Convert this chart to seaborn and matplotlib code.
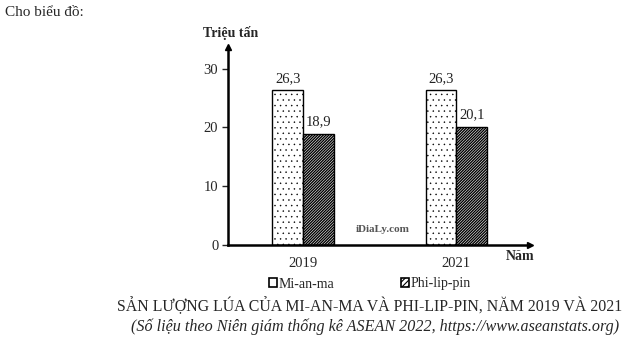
import matplotlib
matplotlib.use("Agg")
import matplotlib.pyplot as plt
from matplotlib.patches import Patch
import seaborn as sns
import pandas as pd

years = ["2019", "2021"]
countries = ["Mi-an-ma", "Phi-lip-pin"]
myanmar = [26.3, 26.3]
philippines = [18.9, 20.1]
yticks = [0, 10, 20, 30]

df = pd.DataFrame({
    "Năm": years * 2,
    "Quốc gia": [countries[0]] * 2 + [countries[1]] * 2,
    "Sản lượng": myanmar + philippines,
})

sns.set_style("white")
plt.rcParams["font.family"] = ["Liberation Serif", "DejaVu Serif"]
plt.rcParams["hatch.linewidth"] = 0.8

W, H = 626, 343
fig = plt.figure(figsize=(W / 100, H / 100), dpi=100)
left, right, bottom, top = 228, 530, 245, 47
ax = fig.add_axes([left / W, 1 - bottom / H, (right - left) / W, (bottom - top) / H])

sns.barplot(data=df, x="Năm", y="Sản lượng", hue="Quốc gia", hue_order=countries,
            order=years, palette=["white", "white"], edgecolor="black", linewidth=1.0,
            width=0.4, gap=0, ax=ax, legend=False)

hatches = ["...", "////////////"]
hlw = [0.3, 1.0]
for cont, h, lw in zip(ax.containers, hatches, hlw):
    for p in cont:
        p.set_hatch(h)
        p.set_hatch_linewidth(lw)
    ax.bar_label(cont, labels=[f"{v:.1f}".replace(".", ",") for v in cont.datavalues],
                 padding=4, fontsize=10.5, color="#222222")

ax.set_ylim(0, 33.7)
ax.set_xlim(-0.49, 1.48)
ax.set_yticks(yticks)
ax.set_yticklabels([str(t) for t in yticks])
ax.tick_params(axis="y", which="both", left=True, length=4, width=1, pad=3, labelsize=10.5)
ax.tick_params(axis="x", bottom=False, pad=5, labelsize=10.5)
ax.set_xlabel("")
ax.set_ylabel("")
for s in ["top", "right"]:
    ax.spines[s].set_visible(False)
for s in ["left", "bottom"]:
    ax.spines[s].set_linewidth(1.8)
    ax.spines[s].set_color("black")
ax.plot(1, 0, ">k", transform=ax.transAxes, clip_on=False, markersize=5)
ax.plot(0, 1, "^k", transform=ax.transAxes, clip_on=False, markersize=5)

# legend
legend_hatches = ["", "//////"]
handles = []
for c, h in zip(countries, legend_hatches):
    ph = Patch(facecolor="white", edgecolor="black", hatch=h, linewidth=1.2, label=c)
    handles.append(ph)
fig.legend(handles=handles, loc="center", bbox_to_anchor=(370 / W, 1 - 284 / H),
           ncol=2, frameon=False, fontsize=10, handlelength=0.55, handleheight=0.55,
           handletextpad=0.15, columnspacing=4.8)

fig.text(5 / W, 1 - 13 / H, "Cho biểu đồ:", fontsize=11, va="center", ha="left")
fig.text(231 / W, 1 - 33 / H, "Triệu tấn", fontsize=10, weight="bold", va="center", ha="center")
fig.text(520 / W, 1 - 256 / H, "Năm", fontsize=10, weight="bold", va="center", ha="center")
fig.text(383 / W, 1 - 230 / H, "iDiaLy.com", fontsize=8, weight="bold", va="center",
         ha="center", color="#555555")
fig.text(370 / W, 1 - 306 / H, "SẢN LƯỢNG LÚA CỦA MI-AN-MA VÀ PHI-LIP-PIN, NĂM 2019 VÀ 2021",
         fontsize=11.4, va="center", ha="center")
fig.text(375 / W, 1 - 327 / H,
         "(Số liệu theo Niên giám thống kê ASEAN 2022, https://www.aseanstats.org)",
         fontsize=11.6, style="italic", va="center", ha="center")

fig.savefig("out.png", dpi=100)
